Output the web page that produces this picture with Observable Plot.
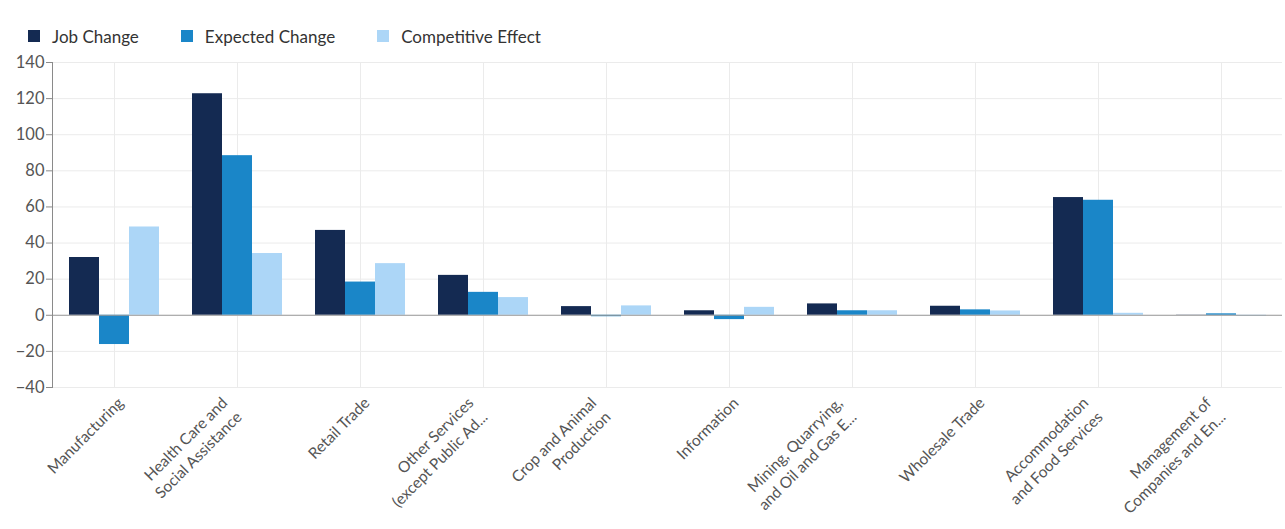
<!DOCTYPE html>
<html>
<head>
<meta charset="utf-8">
<script src="https://cdn.jsdelivr.net/npm/d3@7"></script>
<script src="https://cdn.jsdelivr.net/npm/@observablehq/plot@0.6"></script>
<style>
  html, body { margin: 0; padding: 0; background: #fff; }
  body { width: 1285px; height: 529px; overflow: hidden; font-family: Lato, "Open Sans", sans-serif; }
  #legend { height: 52px; box-sizing: border-box; padding: 20px 0 0 28px; display: flex; align-items: center; gap: 42px; font-size: 17px; color: #333; }
  .item { display: flex; align-items: center; gap: 12px; }
  .sw { width: 12px; height: 12px; display: inline-block; }
  #chart svg { display: block; }
</style>
</head>
<body>
<div id="legend"></div>
<div id="chart"></div>
<script>
const categories = [
  "Manufacturing",
  "Health Care and Social Assistance",
  "Retail Trade",
  "Other Services (except Public Ad...",
  "Crop and Animal Production",
  "Information",
  "Mining, Quarrying, and Oil and Gas E...",
  "Wholesale Trade",
  "Accommodation and Food Services",
  "Management of Companies and En..."
];
const tickLabels = [
  "Manufacturing",
  "Health Care and\nSocial Assistance",
  "Retail Trade",
  "Other Services\n(except Public Ad...",
  "Crop and Animal\nProduction",
  "Information",
  "Mining, Quarrying,\nand Oil and Gas E...",
  "Wholesale Trade",
  "Accommodation\nand Food Services",
  "Management of\nCompanies and En..."
];
const series = ["Job Change", "Expected Change", "Competitive Effect"];
const colors = ["#142a52", "#1a86c8", "#acd6f7"];
const jobChange =         [32,   122.7, 47,   22.1, 4.8,  2.5,  6.3, 5,   65.2, 0.1];
const expectedChange =    [-16.2, 88.4, 18.4, 12.7, -0.8, -2.4, 2.5, 3,   63.7, 0.8];
const competitiveEffect = [48.9, 34.2,  28.6, 9.8,  5.2,  4.4,  2.5, 2.4, 1.1,  -0.5];
const yTicks = [-40, -20, 0, 20, 40, 60, 80, 100, 120, 140];

const valuesBySeries = [jobChange, expectedChange, competitiveEffect];
const rows = categories.flatMap((c, i) =>
  series.map((s, j) => ({category: c, series: s, value: valuesBySeries[j][i]}))
);
const labelRows = categories.map((c, i) => ({category: c, label: tickLabels[i]}));
const singleLine = labelRows.filter((d) => !d.label.includes("\n"));
const doubleLine = labelRows.filter((d) => d.label.includes("\n"));

// legend
const legend = document.getElementById("legend");
series.forEach((s, i) => {
  const it = document.createElement("div");
  it.className = "item";
  const sw = document.createElement("span");
  sw.className = "sw";
  sw.style.background = colors[i];
  const t = document.createElement("span");
  t.textContent = s;
  it.append(sw, t);
  legend.append(it);
});

const labelStyle = {
  fx: "category", text: "label", frameAnchor: "bottom", rotate: -45,
  textAnchor: "end", lineAnchor: "middle", lineHeight: 1.3,
  fontSize: 15.5, fill: "#555"
};

const chart = Plot.plot({
  width: 1285,
  height: 477,
  marginTop: 10,
  marginBottom: 142,
  marginLeft: 50,
  marginRight: 1,
  style: {fontFamily: "Lato, 'Open Sans', sans-serif", fontSize: "16px", color: "#555", background: "#fff"},
  fx: {domain: categories, padding: 0, axis: null},
  x: {domain: series, axis: null, paddingInner: 0, paddingOuter: 0.53},
  y: {domain: [-40, 140], axis: null},
  color: {domain: series, range: colors},
  marks: [
    Plot.gridY(yTicks, {stroke: "#ebebeb", strokeOpacity: 1}),
    Plot.ruleX(["Expected Change"], {stroke: "#ebebeb"}),
    Plot.barY(rows, {fx: "category", x: "series", y: "value", fill: "series"}),
    Plot.ruleY([0], {stroke: "#9a9a9a"}),
    Plot.frame({anchor: "left", facetAnchor: "left", stroke: "#8a8a8a"}),
    Plot.axisY(yTicks, {tickSize: 6, tickPadding: 2, stroke: "#8a8a8a", fill: "#555", fontSize: 16.5, label: null}),
    Plot.text(singleLine, {...labelStyle, dx: 6, dy: 12}),
    Plot.text(doubleLine, {...labelStyle, dx: -6, dy: 19})
  ]
});
document.getElementById("chart").append(chart);
</script>
</body>
</html>
